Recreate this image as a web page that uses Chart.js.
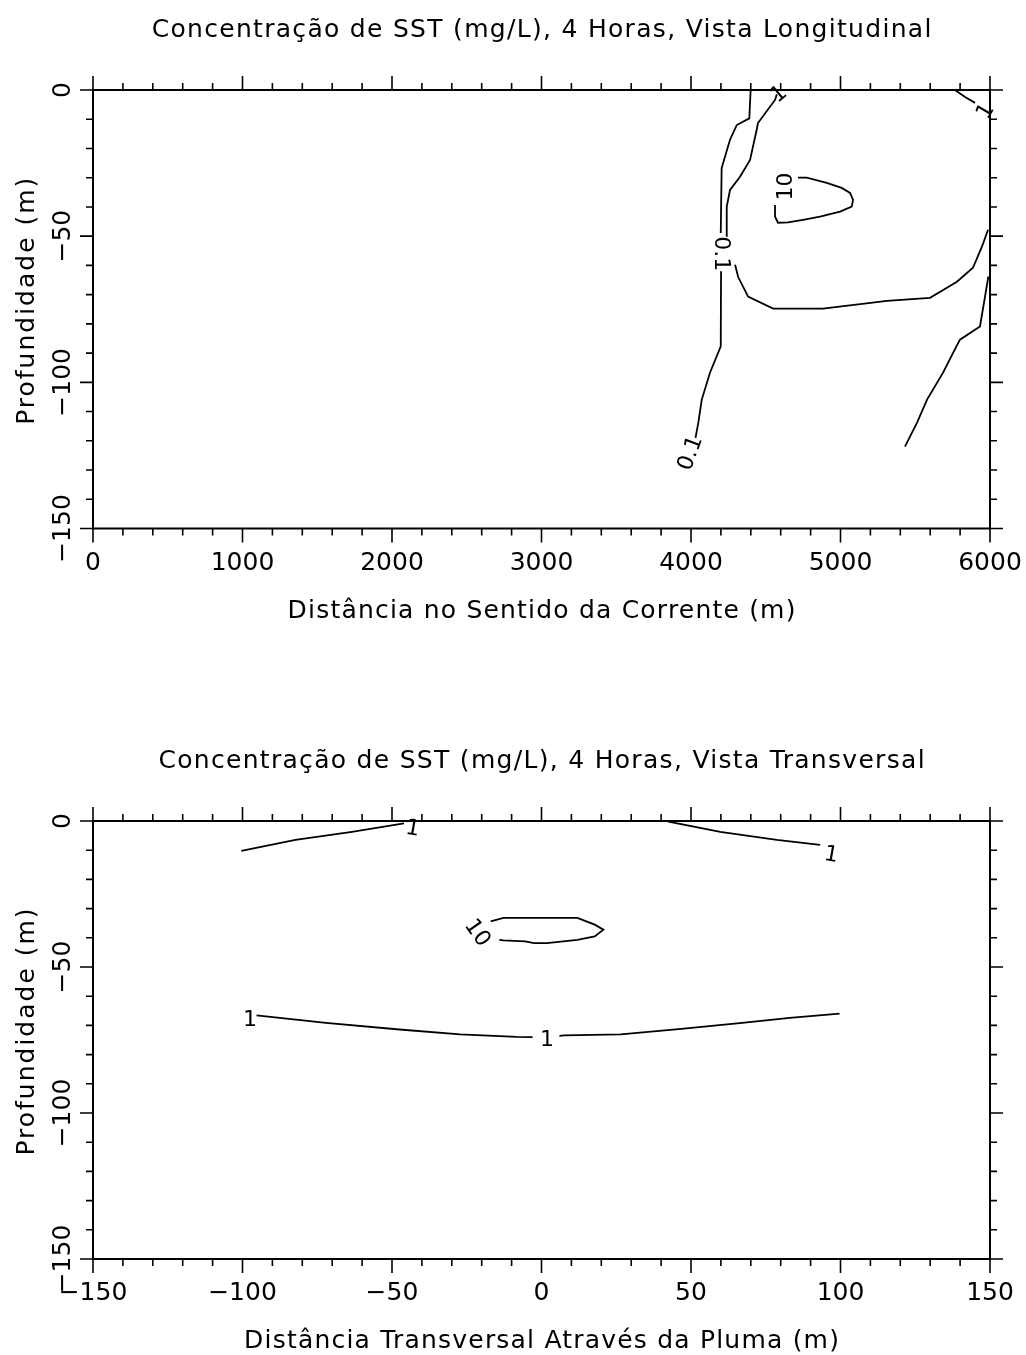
<!DOCTYPE html>
<html>
<head>
<meta charset="utf-8">
<script src="https://cdn.jsdelivr.net/npm/chart.js@4.4.1/dist/chart.umd.min.js"></script>
<style>
  body { margin: 0; background: #fff; }
  canvas { position: absolute; left: 0; }
  #top { top: 0; }
  #bottom { top: 690px; }
</style>
</head>
<body>
<canvas id="top" width="1026" height="690"></canvas>
<canvas id="bottom" width="1026" height="665"></canvas>
<script>
// ---- data ----
// longitudinal view (x = distance downstream, m ; y = depth, m)
const longXTicks = [0, 1000, 2000, 3000, 4000, 5000, 6000];
const depthTicks = [0, -50, -100, -150];

const longC01Left = [[4399,0],[4390,-9.7],[4306,-12],[4261,-17],[4205,-26.7],[4199,-48.9],null,
                     [4201,-62],[4199,-87.7],[4127,-96.7],[4072,-105.9],[4049,-113.8],[4030,-119]];
const longC1 = [[4574,-1.5],[4562,-3.4],[4448,-11.3],[4439,-13.7],[4395,-23.9],[4328,-29.7],[4261,-34.2],
                [4239,-40],[4239,-50.2],null,[4295,-59.8],[4315,-63.9],[4382,-70.7],[4549,-74.8],
                [4883,-74.8],[5311,-72.1],[5599,-71.1],[5779,-65.6],[5886,-60.8],[5946,-53.6],[5987,-47.8]];
const longC1Corner = [[5766,0],[5833,-2.4],[5900,-4.4]];
const longC10 = [[4716,-30],[4774,-30],[4908,-31.8],[5008,-33.5],[5064,-35.2],[5084,-37.6],[5075,-39.9],
                 [4997,-41.6],[4863,-43.3],[4749,-44.4],[4649,-45.3],[4582,-45.4],[4562,-43.3],[4562,-39.3]];
const longC01Right = [[5989,-63.8],[5967,-70.6],[5933,-80.9],[5799,-85.4],[5753,-89.9],[5686,-96.7],
                      [5579,-105.9],[5512,-113.8],[5431,-122]];
// contour labels: text, x, y, rotation (deg)
const longLabels = [["1",4580,-1,-40],["1",5960,-7,-60],["10",4622,-33,-90],
                    ["0.1",4212,-56,90],["0.1",3985,-124,-70]];

// transversal view (x = distance across plume, m ; y = depth, m)
const transXTicks = [-150, -100, -50, 0, 50, 100, 150];

const transC1Left = [[-100.4,-10.25],[-82.3,-6.5],[-63.4,-3.7],[-46,-0.8]];
const transC1Right = [[42.4,-0.2],[59.8,-3.7],[78.7,-6.5],[93.2,-8.2]];
const transC10 = [[-14.1,-40.7],[-12.7,-40.9],[-5.45,-41.2],[-2.5,-41.8],[1.8,-41.8],[12,-40.7],[17.8,-39.5],
                  [20.7,-37.2],[17.8,-35.5],[12,-33.2],[-12.7,-33.2],[-17,-34.4]];
const transC1Low = [[-95.3,-66.6],[-72.1,-69.1],[-47.5,-71.4],[-27.2,-73.1],[-8.3,-73.9],[-3,-74],null,
                    [6,-73.6],[7.6,-73.4],[26.5,-73.1],[46.75,-71.2],[67.1,-69.1],[83,-67.4],[99.7,-66]];
const transLabels = [["1",-43,-2,10],["1",97,-11,10],["10",-21,-38,55],["1",-97.5,-67.3,0],["1",1.8,-74.3,0]];

// ---- helpers ----
const FONT = '"DejaVu Sans"';
// (x, y) is the centre of the capital height
function txt(ctx, s, x, y, rot, size, spacing) {
  ctx.save();
  ctx.translate(x, y);
  ctx.rotate((rot || 0) * Math.PI / 180);
  ctx.font = size + 'px ' + FONT;
  ctx.letterSpacing = (spacing || 0) + 'px';
  ctx.fillStyle = '#000';
  ctx.textAlign = 'center';
  ctx.textBaseline = 'alphabetic';
  ctx.fillText(s, (spacing || 0) / 2, 0.365 * size);
  ctx.restore();
}

const toPts = arr => arr.map(p => p ? {x: p[0], y: p[1]} : {x: NaN, y: NaN});
const contour = arr => ({
  data: toPts(arr), showLine: true, spanGaps: false,
  borderColor: '#000', borderWidth: 1.8, pointRadius: 0, tension: 0
});

// frame, ticks, labels, titles
const framePlugin = {
  id: 'frame',
  afterDatasetsDraw(chart, args, o) {
    const {ctx, chartArea: a, scales: {x, y}} = chart;
    ctx.save();
    ctx.strokeStyle = '#000';
    ctx.lineWidth = 2;
    ctx.strokeRect(a.left, a.top, a.right - a.left, a.bottom - a.top);
    ctx.lineWidth = 1.6;
    ctx.beginPath();
    for (let v = x.min; v <= x.max + 1e-6; v += o.xMinor) {
      const px = x.getPixelForValue(v);
      const major = Math.abs(Math.round(v / o.xMajor) * o.xMajor - v) < 1e-6;
      const len = major ? 14 : 7;
      ctx.moveTo(px, a.top); ctx.lineTo(px, a.top - len);
      ctx.moveTo(px, a.bottom); ctx.lineTo(px, a.bottom + len);
    }
    for (let v = y.min; v <= y.max + 1e-6; v += 10) {
      const py = y.getPixelForValue(v);
      const major = v % 50 === 0;
      const len = major ? 13 : 7;
      ctx.moveTo(a.left, py); ctx.lineTo(a.left - len, py);
      ctx.moveTo(a.right, py); ctx.lineTo(a.right + len, py);
    }
    ctx.stroke();
    ctx.restore();

    const fmt = v => String(v).replace('-', '\u2212');
    o.xTicks.forEach(v => txt(ctx, fmt(v), x.getPixelForValue(v), a.bottom + 32, 0, 25));
    depthTicks.forEach(v => txt(ctx, fmt(v), 61, y.getPixelForValue(v), -90, 25));
    txt(ctx, o.title, (a.left + a.right) / 2, a.top - 62, 0, 25, 1.3);
    txt(ctx, o.xTitle, (a.left + a.right) / 2, a.bottom + 80, 0, 25, 1.2);
    txt(ctx, 'Profundidade (m)', 25, (a.top + a.bottom) / 2 - 8, -90, 25, 2);
    o.labels.forEach(l => txt(ctx, l[0], x.getPixelForValue(l[1]), y.getPixelForValue(l[2]), l[3], 22));
  }
};

function makeChart(id, datasets, xmin, xmax, pad, opts) {
  return new Chart(document.getElementById(id), {
    type: 'scatter',
    data: { datasets },
    plugins: [framePlugin],
    options: {
      responsive: false,
      animation: false,
      devicePixelRatio: 1,
      layout: { padding: pad },
      plugins: { legend: { display: false }, tooltip: { enabled: false }, frame: opts },
      scales: {
        x: { type: 'linear', min: xmin, max: xmax, display: false },
        y: { type: 'linear', min: -150, max: 0, display: false }
      }
    }
  });
}

makeChart('top',
  [longC01Left, longC1, longC1Corner, longC10, longC01Right].map(contour),
  0, 6000,
  { left: 93, right: 36, top: 90, bottom: 161.5 },
  { xTicks: longXTicks, xMinor: 200, xMajor: 1000, labels: longLabels,
    title: 'Concentração de SST (mg/L), 4 Horas, Vista Longitudinal',
    xTitle: 'Distância no Sentido da Corrente (m)' });

makeChart('bottom',
  [transC1Left, transC1Right, transC10, transC1Low].map(contour),
  -150, 150,
  { left: 93, right: 36, top: 131, bottom: 96 },
  { xTicks: transXTicks, xMinor: 10, xMajor: 50, labels: transLabels,
    title: 'Concentração de SST (mg/L), 4 Horas, Vista Transversal',
    xTitle: 'Distância Transversal Através da Pluma (m)' });
</script>
</body>
</html>
